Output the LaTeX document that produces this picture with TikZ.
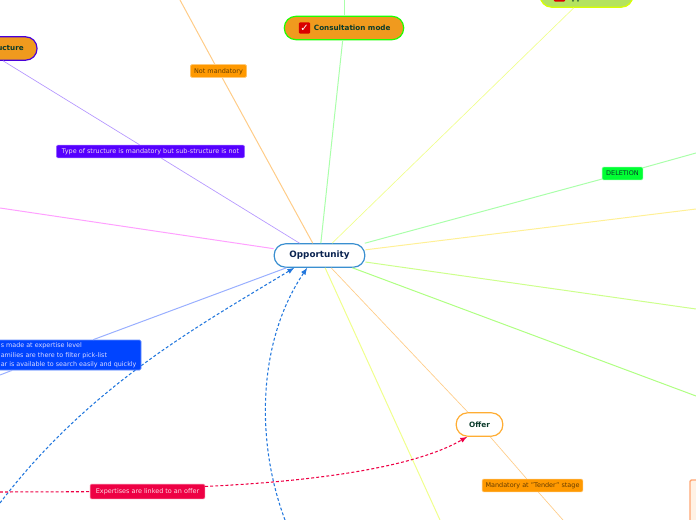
\documentclass[tikz,border=0pt]{standalone}
\usepackage{fontspec}
\setmainfont{DejaVu Sans}
\definecolor{lineblue}{RGB}{58, 143, 208}
\definecolor{arrowblue}{RGB}{34, 119, 221}
\definecolor{crimson}{RGB}{238, 0, 68}
\definecolor{amber}{RGB}{255, 153, 0}
\definecolor{topicorange}{RGB}{240, 154, 30}
\definecolor{topiclime}{RGB}{180, 227, 95}
\definecolor{tagviolet}{RGB}{85, 0, 255}
\definecolor{tagblue}{RGB}{0, 68, 255}
\definecolor{taggreen}{RGB}{0, 255, 51}
\definecolor{inkgreen}{RGB}{11, 59, 43}
\definecolor{inknavy}{RGB}{10, 35, 80}
\definecolor{linkorange}{RGB}{255, 204, 136}
\definecolor{linkpink}{RGB}{255, 160, 255}
\definecolor{linkgreen}{RGB}{170, 255, 170}
\definecolor{linkyellow}{RGB}{255, 240, 150}
\definecolor{linklime}{RGB}{205, 255, 140}
\definecolor{linkgrass}{RGB}{175, 255, 130}
\definecolor{linkpale}{RGB}{240, 255, 140}
\definecolor{linkblue}{RGB}{153, 175, 255}
\definecolor{linkviolet}{RGB}{180, 150, 255}
\usetikzlibrary{positioning,shapes,arrows,calc}

\begin{document}
\begin{tikzpicture}[
    x=0.75pt,y=-0.75pt,
    topic/.style={rectangle,draw,line width=0.9pt,rounded corners=8.5pt,minimum height=17.5pt,inner sep=0pt,align=center},
    tag/.style={rectangle,draw,line width=0.5pt,rounded corners=1pt,inner sep=0pt,minimum height=9.6pt,text height=3.4pt,text depth=0pt,font=\fontsize{4.85}{6}\selectfont},
    tagtext/.style={inner sep=0pt,font=\fontsize{4.8}{7.1}\selectfont,align=left},
    topictext/.style={inner sep=0pt,text=inkgreen,font=\fontsize{5.4}{7}\selectfont\bfseries},
    iconbox/.style={rectangle,fill=red!85!black,rounded corners=1pt,minimum size=8.6pt,inner sep=0pt,text=white,font=\fontsize{7.5}{7.5}\selectfont},
    link/.style={line width=0.75pt},
    thinlink/.style={line width=0.5pt},
    relation/.style={line width=0.8pt,dash pattern=on 2.2pt off 1.6pt,-latex}
]
    \useasboundingbox (0,0) rectangle (696,520);
    \clip (0,0) rectangle (696,520);

    % main topics
    \node[topic,draw=lineblue,fill=white,minimum width=68pt,font=\fontsize{6.6}{8}\selectfont\bfseries,text=inknavy] (opp) at (319.5,255.5) {\raisebox{-0.7pt}{Opportunity}};
    \node[topic,draw=green!85!lime,fill=topicorange,minimum width=89.5pt] (consult) at (344,28) {};
    \node[topic,draw=tagviolet!85!black,fill=topicorange,minimum width=81pt] (structure) at (-17,48.5) {};
    \node[topic,draw=lime!60!yellow,fill=topiclime,minimum width=69.5pt] (approval) at (586.5,-4.5) {};
    \node[topic,draw=amber!80,fill=white,minimum width=35pt,text=inkgreen,font=\fontsize{5.5}{7}\selectfont\bfseries] (offer) at (479.5,424.5) {Offer};
    \node[rectangle,draw=orange!40!pink,line width=1pt,fill=orange!10,minimum width=60pt,minimum height=45pt,rounded corners=1pt] (note) at (730,510) {};

    % this one runs under the search tag
    \coordinate (relfirst) at (0,503);
    \draw[relation,arrowblue] (relfirst) .. controls (90,385) and (200,325) .. (opp.206);

    % tags on the branches
    \node[tag,draw=amber!60,fill=amber,text=amber!40!black,minimum width=42pt] (notmand) at (218.5,71) {Not mandatory};
    \node[tag,draw=tagviolet!60,fill=tagviolet,text=white!85!violet,minimum width=141pt] (typetag) at (150.5,151.5) {Type of structure is mandatory but sub-structure is not};
    \node[tag,draw=taggreen!60,fill=taggreen,text=inkgreen,minimum width=30.5pt] (deletion) at (622.5,173.5) {DELETION};
    \node[tag,draw=amber!60,fill=amber,text=amber!40!black,minimum width=75.5pt] (tender) at (532.5,485.5) {Mandatory at "Tender" stage};
    \node[tag,draw=crimson!60,fill=crimson,text=white!85!crimson,minimum width=86pt,minimum height=11pt] (expert) at (147.5,491.5) {Expertises are linked to an offer};
    \node[tag,draw=tagblue!60,fill=tagblue,minimum width=133.5pt,minimum height=22.5pt] (search) at (52,355) {};

    % free ends of the branches
    \coordinate (endorange) at (180,0);
    \coordinate (endpink) at (0,208);
    \coordinate (endgreen) at (344,0);
    \coordinate (enddel) at (696,153);
    \coordinate (endyellow) at (696,209);
    \coordinate (endlime) at (696,309);
    \coordinate (endgrass) at (696,396);
    \coordinate (endpale) at (440,520);
    \coordinate (endtender) at (563,520);
    \coordinate (endsearch) at (0,375);
    \coordinate (relsecond) at (285,520);
    \coordinate (relthird) at (0,492);

    \draw[link,linkorange] (opp) -- (notmand) -- (endorange);
    \draw[thinlink,linkviolet] (opp) -- (typetag) -- (structure);
    \draw[link,linkpink] (opp) -- (endpink);
    \draw[link,linkgreen] (opp) -- (consult);
    \draw[link,linkgreen] (consult) -- (endgreen);
    \draw[thinlink,linkpale] (opp) -- (approval);
    \draw[link,linkgreen] (opp) -- (deletion) -- (enddel);
    \draw[link,linkyellow] (opp) -- (endyellow);
    \draw[link,linklime] (opp) -- (endlime);
    \draw[link,linkgrass] (opp) -- (endgrass);
    \draw[link,linkpale] (opp) -- (endpale);
    \draw[thinlink,linkorange] (opp) -- (offer);
    \draw[thinlink,linkorange] (offer) -- (tender) -- (endtender);
    \draw[link,linkblue] (opp) -- (search) -- (endsearch);

    % relations
    \draw[relation,arrowblue] (relsecond) .. controls (255,440) and (258,340) .. (opp.225);
    \draw[relation,crimson,-] (relthird) -- (expert);
    \draw[relation,crimson] (expert.5) .. controls (300,482) and (410,470) .. (offer.225);

    % texts and icons of the topics
    \node[tagtext,anchor=west,text=white!85!blue] (searchtext) at (0.5,355.5) {s made at expertise level\\amilies are there to filter pick-list\\ar is available to search easily and quickly};
    \node[iconbox] (consulticon) at (304.5,28) {✓};
    \node[topictext,right=2.4pt of consulticon] (consulttext) {Consultation mode};
    \node[topictext,anchor=east] (structuretext) at (24,48.5) {ucture};
    \node[iconbox] (approvalicon) at (559.5,-4) {};
    \node[topictext,anchor=base west] (approvaltext) at (571.5,1) {pp};
\end{tikzpicture}
\end{document}
